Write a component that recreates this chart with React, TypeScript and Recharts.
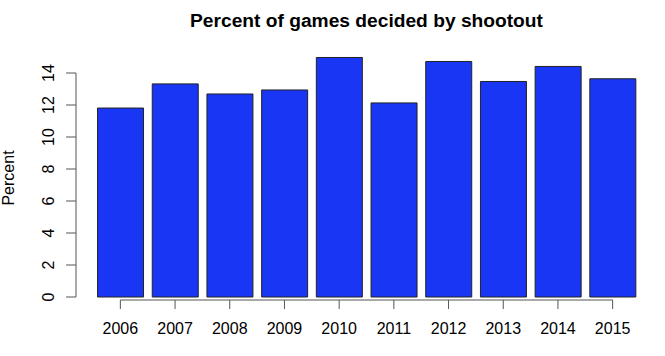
import React from 'react';
import { BarChart, Bar, XAxis, YAxis, ReferenceLine } from 'recharts';

const years = ['2006', '2007', '2008', '2009', '2010', '2011', '2012', '2013', '2014', '2015'];
const percents = [11.81, 13.32, 12.69, 12.94, 14.97, 12.13, 14.72, 13.47, 14.41, 13.64];
const yTicks = [0, 2, 4, 6, 8, 10, 12, 14];

const data = years.map((year, i) => ({ year, pct: percents[i] }));

const FONT = '"Liberation Sans", Arial, Helvetica, sans-serif';
const Y_MIN = -0.1875;
const Y_MAX = 15.5;

const YTick = (props: any) => {
  const { x, y, payload } = props;
  return (
    <text
      x={x}
      y={y}
      transform={`rotate(-90 ${x} ${y})`}
      textAnchor="middle"
      fontSize={16}
      fontFamily={FONT}
      fill="#000"
    >
      {payload.value}
    </text>
  );
};

export default function App() {
  return (
    <div style={{ position: 'absolute', left: 0, top: 0, width: 665, height: 356, background: '#fff' }}>
      <BarChart
        width={665}
        height={356}
        data={data}
        margin={{ top: 49, right: 8, bottom: 26, left: 0 }}
        barCategoryGap="8.3%"
      >
        <XAxis
          dataKey="year"
          height={30}
          interval={0}
          axisLine={false}
          tickLine={{ stroke: '#555' }}
          tickSize={9}
          tickMargin={14}
          padding={{ left: 17, right: 17 }}
          tick={{ fontSize: 16, fill: '#000', fontFamily: FONT }}
        />
        <XAxis xAxisId="lin" type="number" domain={[0, 1]} hide />
        <YAxis
          type="number"
          domain={[Y_MIN, Y_MAX]}
          ticks={yTicks}
          width={76}
          axisLine={false}
          tickLine={{ stroke: '#555' }}
          tickSize={10}
          tickMargin={12}
          tick={<YTick />}
        />
        <Bar dataKey="pct" fill="#1a36f5" stroke="#222" strokeWidth={1} isAnimationActive={false} />
        <ReferenceLine
          segment={[{ x: years[0], y: Y_MIN }, { x: years[years.length - 1], y: Y_MIN }]}
          stroke="#555"
          ifOverflow="visible"
        />
        <ReferenceLine
          xAxisId="lin"
          segment={[{ x: 0, y: yTicks[0] }, { x: 0, y: yTicks[yTicks.length - 1] }]}
          stroke="#555"
          ifOverflow="visible"
        />
      </BarChart>
      <svg
        width={665}
        height={356}
        style={{ position: 'absolute', left: 0, top: 0, pointerEvents: 'none' }}
      >
        <text x={366.5} y={27} textAnchor="middle" fontSize={19.2} fontWeight="bold" fontFamily={FONT} fill="#000">
          Percent of games decided by shootout
        </text>
        <text
          x={14}
          y={178}
          transform="rotate(-90 14 178)"
          textAnchor="middle"
          fontSize={16}
          fontFamily={FONT}
          fill="#000"
        >
          Percent
        </text>
      </svg>
    </div>
  );
}
